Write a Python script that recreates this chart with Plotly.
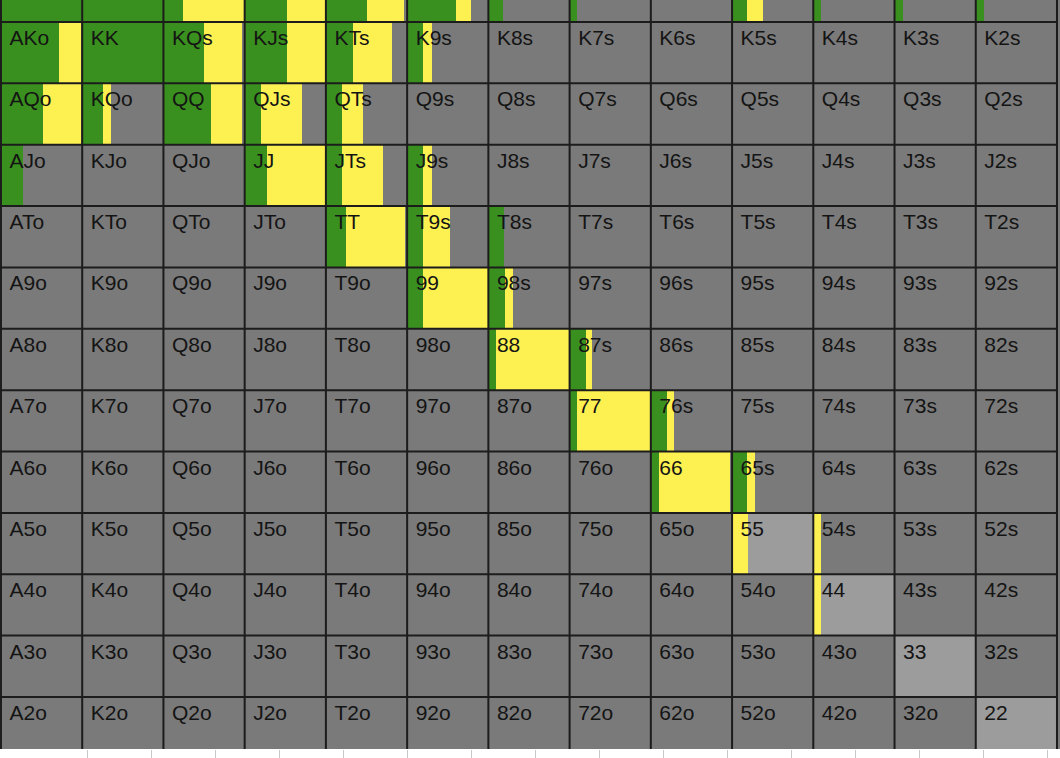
import plotly.graph_objects as go

ranks = ["A", "K", "Q", "J", "T", "9", "8", "7", "6", "5", "4", "3", "2"]

# fraction of each cell painted green (from the left)
green = [
    [1.00, 1.00, 0.24, 0.52, 0.50, 0.60, 0.18, 0.09, 0.00, 0.18, 0.09, 0.10, 0.10],
    [0.71, 1.00, 0.50, 0.52, 0.33, 0.20, 0, 0, 0, 0, 0, 0, 0],
    [0.52, 0.25, 0.58, 0.20, 0.20, 0, 0, 0, 0, 0, 0, 0, 0],
    [0.27, 0, 0, 0.27, 0.20, 0.20, 0, 0, 0, 0, 0, 0, 0],
    [0, 0, 0, 0, 0.25, 0.20, 0.19, 0, 0, 0, 0, 0, 0],
    [0, 0, 0, 0, 0, 0.20, 0.20, 0, 0, 0, 0, 0, 0],
    [0, 0, 0, 0, 0, 0, 0.10, 0.20, 0, 0, 0, 0, 0],
    [0, 0, 0, 0, 0, 0, 0, 0.09, 0.20, 0, 0, 0, 0],
    [0, 0, 0, 0, 0, 0, 0, 0, 0.10, 0.18, 0, 0, 0],
    [0, 0, 0, 0, 0, 0, 0, 0, 0, 0, 0, 0, 0],
    [0, 0, 0, 0, 0, 0, 0, 0, 0, 0, 0, 0, 0],
    [0, 0, 0, 0, 0, 0, 0, 0, 0, 0, 0, 0, 0],
    [0, 0, 0, 0, 0, 0, 0, 0, 0, 0, 0, 0, 0],
]

# fraction painted yellow (after the green part)
yellow = [
    [0, 0, 0.76, 0.47, 0.46, 0.18, 0, 0, 0, 0.20, 0, 0, 0],
    [0.28, 0, 0.47, 0.47, 0.48, 0.10, 0, 0, 0, 0, 0, 0, 0],
    [0.47, 0.10, 0.39, 0.50, 0.26, 0, 0, 0, 0, 0, 0, 0, 0],
    [0, 0, 0, 0.72, 0.50, 0.11, 0, 0, 0, 0, 0, 0, 0],
    [0, 0, 0, 0, 0.72, 0.33, 0, 0, 0, 0, 0, 0, 0],
    [0, 0, 0, 0, 0, 0.80, 0.10, 0, 0, 0, 0, 0, 0],
    [0, 0, 0, 0, 0, 0, 0.89, 0.08, 0, 0, 0, 0, 0],
    [0, 0, 0, 0, 0, 0, 0, 0.90, 0.08, 0, 0, 0, 0],
    [0, 0, 0, 0, 0, 0, 0, 0, 0.88, 0.10, 0, 0, 0],
    [0, 0, 0, 0, 0, 0, 0, 0, 0, 0.20, 0.10, 0, 0],
    [0, 0, 0, 0, 0, 0, 0, 0, 0, 0, 0.10, 0, 0],
    [0, 0, 0, 0, 0, 0, 0, 0, 0, 0, 0, 0, 0],
    [0, 0, 0, 0, 0, 0, 0, 0, 0, 0, 0, 0, 0],
]

# fraction painted light grey (after green and yellow)
light = [[0] * 13 for _ in range(9)] + [
    [0, 0, 0, 0, 0, 0, 0, 0, 0, 0.80, 0, 0, 0],
    [0, 0, 0, 0, 0, 0, 0, 0, 0, 0, 0.90, 0, 0],
    [0, 0, 0, 0, 0, 0, 0, 0, 0, 0, 0, 1.00, 0],
    [0, 0, 0, 0, 0, 0, 0, 0, 0, 0, 0, 0, 1.00],
]

GREEN = "#3a901e"
YELLOW = "#fdf152"
LIGHT = "#9c9c9c"
DARK = "#7a7a7a"
LINE = "#1c1c1c"

Y_RANGE = [12.848, 0.6415]   # the view is a crop: top row partly hidden
X_RANGE = [-0.012, 13.037]


def label(r, c):
    if r == c:
        return ranks[r] * 2
    if c > r:
        return ranks[r] + ranks[c] + "s"
    return ranks[c] + ranks[r] + "o"


fig = go.Figure()

layers = [(green, GREEN), (yellow, YELLOW), (light, LIGHT)]
offsets = [[0.0] * 13 for _ in range(13)]
for mat, col in layers:
    xs, ys, bases = [], [], []
    for r in range(13):
        for c in range(13):
            w = mat[r][c]
            if w > 0:
                xs.append(w)
                ys.append(r + 0.5)
                bases.append(c + offsets[r][c])
            offsets[r][c] += w
    fig.add_trace(go.Bar(
        x=xs, y=ys, base=bases, orientation="h", width=1.0,
        marker=dict(color=col, line=dict(width=0)),
        hoverinfo="skip", showlegend=False,
    ))

# grid lines
gx, gy = [], []
for k in range(14):
    gx += [k, k, None]
    gy += [0, 13, None]
    gx += [0, 13, None]
    gy += [k, k, None]
fig.add_trace(go.Scatter(
    x=gx, y=gy, mode="lines", line=dict(color=LINE, width=2),
    hoverinfo="skip", showlegend=False,
))

# labels (only those inside the visible window)
tx, ty, tt = [], [], []
for r in range(13):
    for c in range(13):
        yy = r + 0.29
        if min(Y_RANGE) + 0.15 <= yy <= max(Y_RANGE):
            tx.append(c + 0.105)
            ty.append(yy)
            tt.append(label(r, c))
fig.add_trace(go.Scatter(
    x=tx, y=ty, text=tt, mode="text", textposition="middle right",
    textfont=dict(family="Liberation Sans, Arial, sans-serif", size=21, color="#141414"),
    hoverinfo="skip", showlegend=False,
))

# faint tick marks under the grid
fig.add_trace(go.Scatter(x=[0, 1060], y=[None, None], xaxis="x2", mode="markers",
                         showlegend=False, hoverinfo="skip"))

fig.update_layout(
    width=1060, height=758,
    margin=dict(l=0, r=0, t=0, b=9),
    paper_bgcolor="white",
    plot_bgcolor=DARK,
    barmode="overlay",
    bargap=0,
    xaxis=dict(range=X_RANGE, showgrid=False, zeroline=False,
               showticklabels=False, fixedrange=True),
    xaxis2=dict(range=[0, 1060], overlaying="x", anchor="y", side="bottom",
                showgrid=False, zeroline=False, showticklabels=False,
                tickmode="array", tickvals=[87 + 64 * i for i in range(16)],
                ticks="outside", ticklen=8, tickwidth=1, tickcolor="#c8c8c8"),
    yaxis=dict(range=Y_RANGE, showgrid=False, zeroline=False,
               showticklabels=False, fixedrange=True),
)

fig.write_html("out.html")
